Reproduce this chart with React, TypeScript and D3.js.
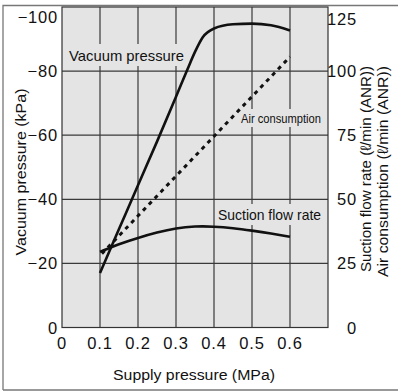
import React from "react";
import * as d3 from "d3";

const xTicks = [0, 0.1, 0.2, 0.3, 0.4, 0.5, 0.6];
const xTickLabels = ["0", "0.1", "0.2", "0.3", "0.4", "0.5", "0.6"];
const leftTicks = [0, -20, -40, -60, -80, -100];
const leftTickLabels = ["0", "\u221220", "\u221240", "\u221260", "\u221280", "\u2212100"];
const rightTicks = [0, 25, 50, 75, 100, 125];
const rightTickLabels = ["0", "25", "50", "75", "100", "125"];

const supply = [0.1, 0.15, 0.2, 0.25, 0.3, 0.33, 0.35, 0.37, 0.4, 0.45, 0.5, 0.55, 0.6];
const vacuum = [-17, -30.7, -44.4, -58, -72, -80.5, -86, -90.5, -93.3, -94.6, -94.8, -94.3, -92.7];

const suctionSupply = [0.1, 0.15, 0.2, 0.25, 0.3, 0.35, 0.4, 0.45, 0.5, 0.55, 0.6];
const suctionFlow = [29.5, 32.6, 35, 37.1, 38.8, 39.5, 39.4, 38.8, 37.8, 36.7, 35.4];

const airSupply = [0.105, 0.6];
const airConsumption = [28.8, 105.6];

const W = 398, H = 392;
const PLOT_BG = "#e4e4e4";
const FONT = "'Liberation Sans', Arial, Helvetica, sans-serif";

export default function App() {
  const x = d3.scaleLinear().domain([0, 0.7]).range([62, 328]);
  const yL = d3.scaleLinear().domain([0, -100]).range([327.5, 7]);
  const yR = d3.scaleLinear().domain([0, 125]).range([327.5, 7]);

  const vacLine = d3.line<number>().x((_, i) => x(supply[i])).y((d) => yL(d)).curve(d3.curveMonotoneX);
  const sucLine = d3.line<number>().x((_, i) => x(suctionSupply[i])).y((d) => yR(d)).curve(d3.curveBasis);
  const airLine = d3.line<number>().x((_, i) => x(airSupply[i])).y((d) => yR(d));

  const [x0, x1] = x.range();
  const yTop = yL(-100), yBot = yL(0);

  return (
    <svg width={W} height={H} style={{ position: "absolute", left: 0, top: 0, background: "#fff" }} fontFamily={FONT}>
      {/* outer frame */}
      <path d={`M3,${H - 2} L3,5.5 L${W},5.5`} fill="none" stroke="#777" strokeWidth={1.3} />
      <line x1={3} x2={W} y1={H - 2} y2={H - 2} stroke="#777" strokeWidth={1.3} />
      {/* plot background */}
      <rect x={x0} y={yTop} width={x1 - x0} height={yBot - yTop} fill={PLOT_BG} />
      {/* grid */}
      {xTicks.slice(1).map((t) => (
        <line key={"vx" + t} x1={x(t)} x2={x(t)} y1={yTop} y2={yBot} stroke="#3a3a3a" strokeWidth={1.2} />
      ))}
      {leftTicks.slice(1, 5).map((t) => (
        <line key={"hy" + t} x1={x0} x2={x1} y1={yL(t)} y2={yL(t)} stroke="#3a3a3a" strokeWidth={1.2} />
      ))}
      {/* plot border */}
      <rect x={x0} y={yTop} width={x1 - x0} height={yBot - yTop} fill="none" stroke="#333" strokeWidth={1.2} />

      {/* series labels with background boxes */}
      <rect x={67} y={44} width={119} height={22} fill={PLOT_BG} />
      <text x={69} y={61} fontSize={15} textLength={115} lengthAdjust="spacingAndGlyphs" fill="#111">Vacuum pressure</text>
      <rect x={240} y={109} width={82} height={18} fill={PLOT_BG} />
      <text x={241} y={123} fontSize={13} textLength={80} lengthAdjust="spacingAndGlyphs" fill="#111">Air consumption</text>
      <rect x={216} y={204} width={107} height={21} fill={PLOT_BG} />
      <text x={218} y={220} fontSize={15} textLength={103} lengthAdjust="spacingAndGlyphs" fill="#111">Suction flow rate</text>

      {/* series */}
      <path d={airLine(airConsumption) || ""} fill="none" stroke="#111" strokeWidth={3} strokeDasharray="4,4.5" />
      <path d={sucLine(suctionFlow) || ""} fill="none" stroke="#111" strokeWidth={2.6} />
      <path d={vacLine(vacuum) || ""} fill="none" stroke="#111" strokeWidth={2.6} />

      {/* x tick labels */}
      {xTicks.map((t, i) => (
        <text key={"xt" + t} x={x(t)} y={349} fontSize={16.5} letterSpacing={0.8} textAnchor="middle" fill="#111">{xTickLabels[i]}</text>
      ))}
      {/* left tick labels */}
      {leftTicks.map((t, i) => (
        <text key={"lt" + t} x={58} y={t === -100 ? 23 : yL(t) + 6} fontSize={16.5} letterSpacing={0.8} textAnchor="end" fill="#111">{leftTickLabels[i]}</text>
      ))}
      {/* right tick labels */}
      {rightTicks.map((t, i) => (
        <text key={"rt" + t} x={357} y={t === 125 ? 25 : yR(t) + 6} fontSize={16.5} letterSpacing={0.8} textAnchor="end" fill="#111">{rightTickLabels[i]}</text>
      ))}

      {/* axis titles */}
      <text x={194} y={380} fontSize={14} textAnchor="middle" textLength={162} lengthAdjust="spacingAndGlyphs" fill="#111">Supply pressure (MPa)</text>
      <text transform="translate(26,172) rotate(-90)" fontSize={15} textAnchor="middle" textLength={167} lengthAdjust="spacingAndGlyphs" fill="#111">Vacuum pressure (kPa)</text>
      <text transform="translate(371,66) rotate(-90)" fontSize={15} textAnchor="end" textLength={206} lengthAdjust="spacingAndGlyphs" fill="#111">Suction flow rate (ℓ/min (ANR))</text>
      <text transform="translate(388,66) rotate(-90)" fontSize={15} textAnchor="end" textLength={211} lengthAdjust="spacingAndGlyphs" fill="#111">Air consumption (ℓ/min (ANR))</text>
    </svg>
  );
}
